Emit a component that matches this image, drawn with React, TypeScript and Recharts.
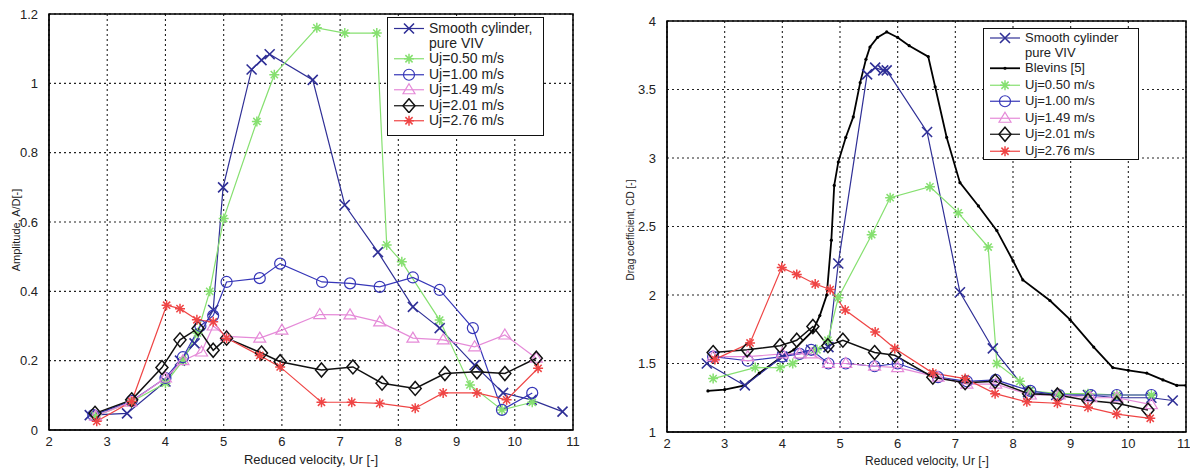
import { LineChart, Line, XAxis, YAxis, CartesianGrid, ReferenceArea } from 'recharts';

type Pair = [number, number];

// Amplitude A/D vs reduced velocity (left panel)
const ampSmooth: Pair[] = [[2.7, 0.043], [3.34, 0.048], [4.0, 0.14], [4.25, 0.2], [4.5, 0.25], [4.82, 0.346], [4.99, 0.7], [5.48, 1.04], [5.65, 1.067], [5.79, 1.084], [6.53, 1.01], [7.08, 0.649], [7.65, 0.513], [8.25, 0.355], [8.71, 0.294], [9.31, 0.187], [9.8, 0.107], [10.29, 0.087], [10.82, 0.053]];
const amp050: Pair[] = [[2.8, 0.04], [3.4, 0.08], [4.0, 0.135], [4.3, 0.2], [4.55, 0.28], [4.76, 0.4], [5.0, 0.61], [5.57, 0.89], [5.87, 1.025], [6.6, 1.16], [7.08, 1.145], [7.63, 1.145], [7.8, 0.534], [8.06, 0.485], [8.71, 0.317], [9.23, 0.13], [9.78, 0.058], [10.3, 0.08]];
const amp100: Pair[] = [[2.76, 0.043], [3.42, 0.084], [4.0, 0.15], [4.3, 0.21], [4.6, 0.3], [4.82, 0.33], [5.05, 0.427], [5.62, 0.438], [5.97, 0.48], [6.69, 0.427], [7.17, 0.423], [7.68, 0.413], [8.25, 0.44], [8.71, 0.404], [9.28, 0.294], [9.78, 0.058], [10.3, 0.107]];
const amp149: Pair[] = [[2.8, 0.04], [3.4, 0.08], [4.0, 0.15], [4.3, 0.2], [4.62, 0.225], [4.82, 0.3], [5.05, 0.27], [5.62, 0.265], [6.0, 0.288], [6.65, 0.333], [7.17, 0.332], [7.68, 0.312], [8.25, 0.265], [8.77, 0.26], [9.31, 0.24], [9.83, 0.274], [10.37, 0.207]];
const amp201: Pair[] = [[2.79, 0.048], [3.42, 0.087], [3.94, 0.18], [4.25, 0.26], [4.56, 0.293], [4.82, 0.23], [5.05, 0.265], [5.65, 0.222], [5.97, 0.197], [6.68, 0.173], [7.22, 0.182], [7.72, 0.135], [8.29, 0.12], [8.8, 0.163], [9.35, 0.168], [9.83, 0.163], [10.37, 0.207]];
const amp276: Pair[] = [[2.82, 0.025], [3.42, 0.082], [4.02, 0.36], [4.25, 0.35], [4.54, 0.318], [4.82, 0.312], [5.05, 0.265], [5.62, 0.215], [5.97, 0.182], [6.68, 0.08], [7.2, 0.08], [7.68, 0.077], [8.29, 0.063], [8.77, 0.107], [9.35, 0.107], [9.86, 0.087], [10.4, 0.178]];

// Drag coefficient CD vs reduced velocity (right panel)
const cdSmooth: Pair[] = [[2.69, 1.5], [3.35, 1.34], [4.0, 1.55], [4.5, 1.6], [4.8, 1.62], [4.97, 2.23], [5.47, 3.61], [5.61, 3.66], [5.75, 3.64], [5.81, 3.64], [6.51, 3.19], [7.08, 2.02], [7.65, 1.61], [8.26, 1.29], [8.75, 1.27], [9.3, 1.27], [9.8, 1.25], [10.4, 1.25], [10.77, 1.23]];
const cdBlevins: Pair[] = [[2.71, 1.3], [3.0, 1.31], [3.35, 1.34], [3.6, 1.43], [3.96, 1.54], [4.2, 1.6], [4.53, 1.74], [4.65, 1.85], [4.77, 2.0], [4.85, 2.4], [4.9, 2.8], [4.97, 2.97], [5.1, 3.15], [5.23, 3.3], [5.35, 3.55], [5.45, 3.72], [5.52, 3.81], [5.65, 3.88], [5.81, 3.92], [6.0, 3.88], [6.2, 3.82], [6.53, 3.74], [6.65, 3.52], [6.85, 3.15], [7.08, 2.82], [7.4, 2.65], [7.72, 2.47], [8.0, 2.25], [8.17, 2.11], [8.64, 1.96], [8.99, 1.82], [9.4, 1.62], [9.73, 1.47], [10.0, 1.45], [10.32, 1.43], [10.6, 1.38], [10.84, 1.34], [11.0, 1.34]];
const cd050: Pair[] = [[2.8, 1.39], [3.53, 1.47], [3.96, 1.47], [4.18, 1.5], [4.6, 1.6], [4.79, 1.67], [4.97, 1.98], [5.55, 2.44], [5.87, 2.71], [6.56, 2.79], [7.05, 2.6], [7.57, 2.35], [7.72, 1.5], [8.12, 1.37], [8.3, 1.3], [8.8, 1.28], [9.3, 1.28], [9.8, 1.27], [10.4, 1.27]];
const cd100: Pair[] = [[2.8, 1.55], [3.4, 1.52], [4.0, 1.55], [4.3, 1.57], [4.5, 1.6], [4.8, 1.5], [5.1, 1.5], [5.6, 1.48], [6.0, 1.5], [6.7, 1.4], [7.2, 1.37], [7.7, 1.38], [8.3, 1.3], [8.8, 1.27], [9.35, 1.27], [9.8, 1.27], [10.4, 1.27]];
const cd149: Pair[] = [[2.8, 1.55], [3.4, 1.55], [4.0, 1.57], [4.3, 1.57], [4.5, 1.57], [4.8, 1.5], [5.1, 1.5], [5.6, 1.48], [6.0, 1.47], [6.7, 1.4], [7.2, 1.35], [7.7, 1.35], [8.3, 1.27], [8.8, 1.27], [9.35, 1.25], [9.8, 1.25], [10.4, 1.2]];
const cd201: Pair[] = [[2.8, 1.58], [3.39, 1.6], [3.96, 1.63], [4.25, 1.67], [4.53, 1.77], [4.79, 1.63], [5.05, 1.67], [5.6, 1.58], [5.95, 1.56], [6.61, 1.4], [7.17, 1.36], [7.69, 1.37], [8.27, 1.28], [8.77, 1.27], [9.3, 1.23], [9.8, 1.21], [10.34, 1.16]];
const cd276: Pair[] = [[2.83, 1.53], [3.44, 1.65], [3.99, 2.2], [4.25, 2.15], [4.57, 2.08], [4.83, 2.04], [5.09, 1.89], [5.61, 1.73], [5.95, 1.61], [6.61, 1.43], [7.17, 1.39], [7.69, 1.28], [8.24, 1.22], [8.77, 1.21], [9.3, 1.18], [9.8, 1.13], [10.38, 1.1]];

const xTicks = [2, 3, 4, 5, 6, 7, 8, 9, 10, 11];
const ampTicks = [0, 0.2, 0.4, 0.6, 0.8, 1, 1.2];
const cdTicks = [1, 1.5, 2, 2.5, 3, 3.5, 4];

const C_SMOOTH = '#2f2f96';
const C_050 = '#86e070';
const C_100 = '#3636b8';
const C_149 = '#e58ad8';
const C_201 = '#111111';
const C_276 = '#ef4545';

const toPts = (p: Pair[]) => p.map(([x, y]) => ({ x, y }));

type Kind = 'x' | 'star' | 'circle' | 'tri' | 'diamond' | 'dot';

function Marker({ kind, color, cx, cy, s = 5 }: { kind: Kind; color: string; cx: number; cy: number; s?: number }) {
  const sw = 1.2;
  if (kind === 'x')
    return <path d={`M${cx - s},${cy - s}L${cx + s},${cy + s}M${cx - s},${cy + s}L${cx + s},${cy - s}`} stroke={color} strokeWidth={sw + 0.4} fill="none" />;
  if (kind === 'star') {
    const d = s * 0.72;
    return <path d={`M${cx - s},${cy}L${cx + s},${cy}M${cx},${cy - s}L${cx},${cy + s}M${cx - d},${cy - d}L${cx + d},${cy + d}M${cx - d},${cy + d}L${cx + d},${cy - d}`} stroke={color} strokeWidth={sw + 0.3} fill="none" />;
  }
  if (kind === 'circle') return <circle cx={cx} cy={cy} r={s + 0.5} stroke={color} strokeWidth={sw} fill="none" />;
  if (kind === 'tri') return <path d={`M${cx},${cy - s - 1}L${cx + s + 1},${cy + s - 1}L${cx - s - 1},${cy + s - 1}Z`} stroke={color} strokeWidth={sw} fill="none" />;
  if (kind === 'diamond') return <path d={`M${cx},${cy - s - 2}L${cx + s + 1},${cy}L${cx},${cy + s + 2}L${cx - s - 1},${cy}Z`} stroke={color} strokeWidth={sw + 0.3} fill="none" />;
  return <circle cx={cx} cy={cy} r={1.6} fill={color} />;
}

const dotFn = (kind: Kind, color: string) => (props: any) => {
  const { cx, cy, index } = props;
  if (cx == null || cy == null) return <g key={`d-${index}`} />;
  return <g key={`d-${kind}-${index}`}><Marker kind={kind} color={color} cx={cx} cy={cy} /></g>;
};

interface SeriesDef {
  name: string;
  data: Pair[];
  color: string;
  kind: Kind;
  width?: number;
}

const ampSeries: SeriesDef[] = [
  { name: 'smooth', data: ampSmooth, color: C_SMOOTH, kind: 'x' },
  { name: '0.50', data: amp050, color: C_050, kind: 'star' },
  { name: '1.00', data: amp100, color: C_100, kind: 'circle' },
  { name: '1.49', data: amp149, color: C_149, kind: 'tri' },
  { name: '2.01', data: amp201, color: C_201, kind: 'diamond', width: 1.5 },
  { name: '2.76', data: amp276, color: C_276, kind: 'star' },
];

const cdSeries: SeriesDef[] = [
  { name: 'blevins', data: cdBlevins, color: '#000', kind: 'dot', width: 1.8 },
  { name: 'smooth', data: cdSmooth, color: C_SMOOTH, kind: 'x' },
  { name: '0.50', data: cd050, color: C_050, kind: 'star' },
  { name: '1.00', data: cd100, color: C_100, kind: 'circle' },
  { name: '1.49', data: cd149, color: C_149, kind: 'tri' },
  { name: '2.01', data: cd201, color: C_201, kind: 'diamond', width: 1.5 },
  { name: '2.76', data: cd276, color: C_276, kind: 'star' },
];

const tickStyle = { fontSize: 13, fill: '#222', fontFamily: 'Liberation Sans, Arial, sans-serif' };

function Panel({ series, yTicks, yDomain, width, height, margin, yWidth }: any) {
  return (
    <LineChart width={width} height={height} margin={margin}>
      <CartesianGrid stroke="#222" strokeDasharray="2 3" strokeWidth={1.1} />
      <XAxis type="number" dataKey="x" domain={[2, 11]} ticks={xTicks} allowDataOverflow tick={tickStyle} stroke="#000" tickLine={false} tickMargin={1} height={30} />
      <YAxis type="number" dataKey="y" domain={yDomain} ticks={yTicks} allowDataOverflow tick={tickStyle} stroke="#000" tickLine={false} tickMargin={5} width={yWidth} />
      <ReferenceArea x1={2} x2={11} y1={yDomain[0]} y2={yDomain[1]} fill="none" stroke="#000" strokeWidth={1.5} ifOverflow="extendDomain" />
      {series.map((s: SeriesDef) => (
        <Line key={s.name} data={toPts(s.data)} dataKey="y" type="linear" stroke={s.color} strokeWidth={s.width ?? 1.2} dot={dotFn(s.kind, s.color)} isAnimationActive={false} />
      ))}
    </LineChart>
  );
}

function LegendRow({ kind, color, label, lineH }: { kind?: Kind; color?: string; label: string; lineH: number }) {
  return (
    <div style={{ display: 'flex', alignItems: 'center', height: lineH }}>
      <svg width={34} height={lineH} style={{ flex: 'none' }}>
        {kind && color && (
          <>
            <line x1={2} x2={32} y1={lineH / 2} y2={lineH / 2} stroke={color} strokeWidth={kind === 'dot' ? 1.8 : 1.2} />
            <Marker kind={kind} color={color} cx={17} cy={lineH / 2} />
          </>
        )}
      </svg>
      <span style={{ marginLeft: 3 }}>{label}</span>
    </div>
  );
}

const font = 'Liberation Sans, Arial, sans-serif';

export default function App() {
  return (
    <div style={{ position: 'fixed', left: 0, top: 0, width: 1190, height: 471, background: '#fff', fontFamily: font }}>
      <div style={{ position: 'absolute', left: 0, top: 0 }}>
        <Panel series={ampSeries} yTicks={ampTicks} yDomain={[0, 1.2]} width={600} height={471} margin={{ top: 14, right: 27, bottom: 11, left: 9 }} yWidth={40} />
      </div>
      <div style={{ position: 'absolute', left: 600, top: 0 }}>
        <Panel series={cdSeries} yTicks={cdTicks} yDomain={[1, 4]} width={590} height={471} margin={{ top: 21, right: 4, bottom: 9, left: 27 }} yWidth={40} />
      </div>

      {/* axis titles */}
      <div style={{ position: 'absolute', left: 16, top: 230, transform: 'translate(-50%,-50%) rotate(-90deg)', fontSize: 11, whiteSpace: 'nowrap', color: '#222' }}>Amplitude, A/D[-]</div>
      <div style={{ position: 'absolute', left: 311, top: 459, transform: 'translate(-50%,-50%)', fontSize: 13, whiteSpace: 'nowrap', color: '#222' }}>Reduced velocity, Ur [-]</div>
      <div style={{ position: 'absolute', left: 630, top: 230, transform: 'translate(-50%,-50%) rotate(-90deg)', fontSize: 10, whiteSpace: 'nowrap', color: '#222' }}>Drag coefficient, CD [-]</div>
      <div style={{ position: 'absolute', left: 927, top: 461, transform: 'translate(-50%,-50%)', fontSize: 12, whiteSpace: 'nowrap', color: '#222' }}>Reduced velocity, Ur [-]</div>

      {/* left legend */}
      <div style={{ position: 'absolute', left: 387, top: 17, width: 157, height: 119, boxSizing: 'border-box', border: '1.5px solid #111', background: '#fff', fontSize: 14, color: '#222', paddingTop: 3, paddingLeft: 4, lineHeight: '15px' }}>
        <LegendRow kind="x" color={C_SMOOTH} label="Smooth cylinder," lineH={15} />
        <LegendRow label="pure VIV" lineH={15} />
        <LegendRow kind="star" color={C_050} label="Uj=0.50 m/s" lineH={15.5} />
        <LegendRow kind="circle" color={C_100} label="Uj=1.00 m/s" lineH={15.5} />
        <LegendRow kind="tri" color={C_149} label="Uj=1.49 m/s" lineH={15.5} />
        <LegendRow kind="diamond" color={C_201} label="Uj=2.01 m/s" lineH={15.5} />
        <LegendRow kind="star" color={C_276} label="Uj=2.76 m/s" lineH={15.5} />
      </div>

      {/* right legend */}
      <div style={{ position: 'absolute', left: 983, top: 28, width: 156, height: 132, boxSizing: 'border-box', border: '1.5px solid #111', background: '#fff', fontSize: 13, color: '#222', paddingTop: 1, paddingLeft: 4, lineHeight: '16px' }}>
        <LegendRow kind="x" color={C_SMOOTH} label="Smooth cylinder" lineH={16} />
        <LegendRow label="pure VIV" lineH={14} />
        <LegendRow kind="dot" color="#000" label="Blevins [5]" lineH={16.5} />
        <LegendRow kind="star" color={C_050} label="Uj=0.50 m/s" lineH={16.5} />
        <LegendRow kind="circle" color={C_100} label="Uj=1.00 m/s" lineH={16.5} />
        <LegendRow kind="tri" color={C_149} label="Uj=1.49 m/s" lineH={16.5} />
        <LegendRow kind="diamond" color={C_201} label="Uj=2.01 m/s" lineH={16.5} />
        <LegendRow kind="star" color={C_276} label="Uj=2.76 m/s" lineH={16.5} />
      </div>
    </div>
  );
}
